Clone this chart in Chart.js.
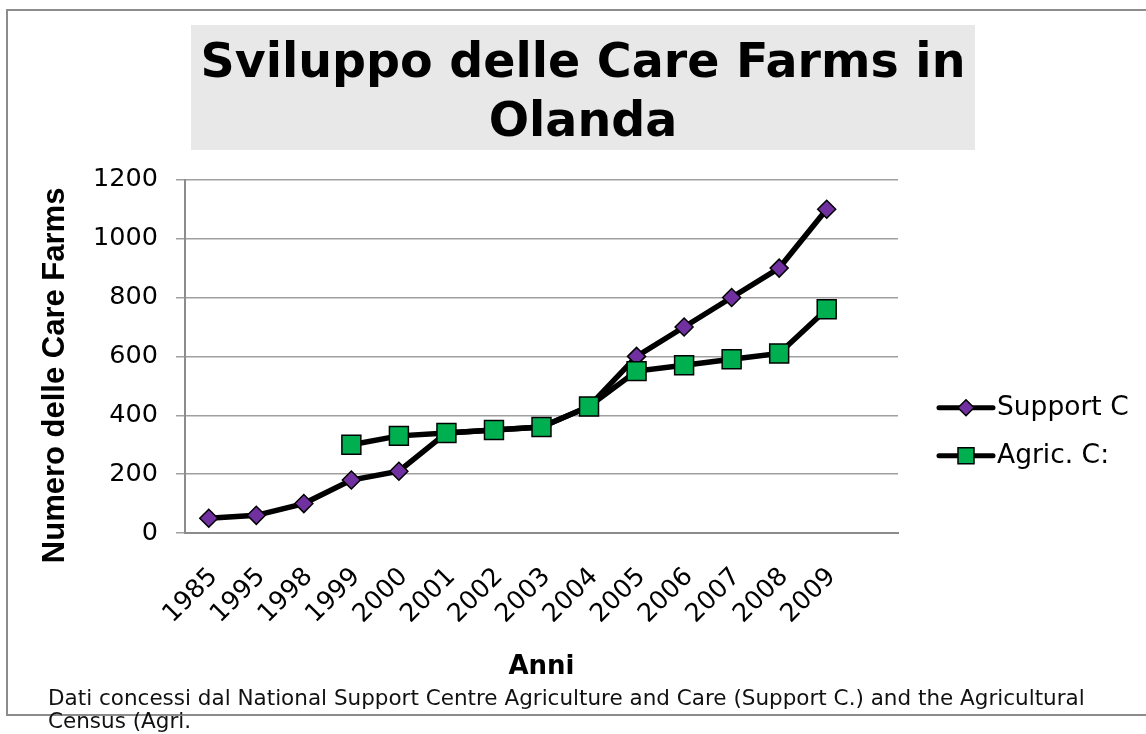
<!DOCTYPE html>
<html><head><meta charset="utf-8">
<script src="https://cdn.jsdelivr.net/npm/chart.js@4.4.0/dist/chart.umd.min.js"></script>
<style>html,body{margin:0;padding:0;background:#fff;overflow:hidden}canvas{display:block}</style>
</head><body>
<canvas id="c" width="1146" height="734"></canvas>
<script>
// ---- data ----
const years = ['1985','1995','1998','1999','2000','2001','2002','2003','2004','2005','2006','2007','2008','2009'];
const supportC = [50, 60, 100, 180, 210, 340, 350, 360, 430, 600, 700, 800, 900, 1100];
const agricC = [null, null, null, 300, 330, 340, 350, 360, 430, 550, 570, 590, 610, 760];
const yTicks = [0, 200, 400, 600, 800, 1000, 1200];
const seriesNames = ['Support C', 'Agric. C:'];
const titleLines = ['Sviluppo delle Care Farms in', 'Olanda'];
const yTitle = 'Numero delle Care Farms';
const xTitle = 'Anni';
const footerLines = ['Dati concessi dal National Support Centre Agriculture and Care (Support C.) and the Agricultural', 'Census (Agri.'];

const PURPLE = '#7030A0', GREEN = '#00B050';
const categoryLabels = years.concat(['']); // one empty slot at the end of the axis

const decor = {
  id: 'decor',
  afterLayout(chart) {
    const tb = chart.titleBlock;
    tb.left = 191; tb.right = 975; tb.width = tb.right - tb.left;
    // y-axis title sits a little below the axis centre in the original
    const ys = chart.scales.y;
    if (ys && !ys._titleShifted) {
      const orig = ys.drawTitle;
      ys.drawTitle = function () {
        this.top += 19; this.bottom += 19;
        try { orig.apply(this, arguments); } finally { this.top -= 19; this.bottom -= 19; }
      };
      ys._titleShifted = true;
    }
  },
  beforeDraw(chart) {
    const ctx = chart.ctx;
    ctx.save();
    ctx.fillStyle = '#fff';
    ctx.fillRect(0, 0, chart.width, chart.height);
    // outer frame
    ctx.strokeStyle = '#8c8c8c';
    ctx.lineWidth = 2;
    ctx.strokeRect(7, 10, chart.width + 20, 705);
    // title background
    const tb = chart.titleBlock;
    ctx.fillStyle = '#e8e8e8';
    ctx.fillRect(tb.left, tb.top, tb.right - tb.left, 125);
    ctx.restore();
  },
  afterDraw(chart) {
    const ctx = chart.ctx;
    const ca = chart.chartArea;
    ctx.save();
    // legend
    const items = [
      {text: seriesNames[0], style: 'diamond', color: PURPLE, y: ca.top + 228},
      {text: seriesNames[1], style: 'square', color: GREEN, y: ca.top + 276}
    ];
    const x0 = ca.right + 41, x1 = ca.right + 95, xm = (x0 + x1) / 2;
    items.forEach(it => {
      ctx.strokeStyle = '#000';
      ctx.lineWidth = 5;
      ctx.lineCap = 'round';
      ctx.beginPath(); ctx.moveTo(x0, it.y); ctx.lineTo(x1, it.y); ctx.stroke();
      ctx.lineCap = 'butt';
      ctx.fillStyle = it.color;
      ctx.lineWidth = 1.5;
      ctx.beginPath();
      if (it.style === 'diamond') {
        const r = 8;
        ctx.moveTo(xm - r, it.y); ctx.lineTo(xm, it.y - r); ctx.lineTo(xm + r, it.y); ctx.lineTo(xm, it.y + r); ctx.closePath();
      } else {
        const h = 8;
        ctx.rect(xm - h, it.y - h, 2 * h, 2 * h);
      }
      ctx.fill(); ctx.stroke();
      ctx.fillStyle = '#000';
      ctx.font = '26.5px "DejaVu Sans"';
      ctx.textBaseline = 'middle';
      ctx.textAlign = 'left';
      ctx.fillText(it.text, x1 + 4, it.y);
    });
    // footer note
    ctx.fillStyle = '#111';
    ctx.font = '21.5px "DejaVu Sans"';
    ctx.textBaseline = 'alphabetic';
    ctx.fillText(footerLines[0], 48, 705);
    ctx.fillText(footerLines[1], 48, 728);
    ctx.restore();
  }
};

new Chart(document.getElementById('c'), {
  type: 'line',
  data: {
    labels: categoryLabels,
    datasets: [
      {
        label: seriesNames[0], data: supportC, order: 1,
        borderColor: '#000', borderWidth: 5.5, tension: 0,
        pointStyle: 'rectRot', pointRadius: 9, pointHoverRadius: 9,
        pointBackgroundColor: PURPLE, pointBorderColor: '#000', pointBorderWidth: 1.5
      },
      {
        label: seriesNames[1], data: agricC, order: 0,
        borderColor: '#000', borderWidth: 5.5, tension: 0,
        pointStyle: 'rect', pointRadius: 13.4, pointHoverRadius: 13.4,
        pointBackgroundColor: GREEN, pointBorderColor: '#000', pointBorderWidth: 1.5
      }
    ]
  },
  options: {
    responsive: false,
    animation: false,
    events: [],
    layout: { padding: { top: 25, left: 17, right: 248, bottom: 51 } },
    plugins: {
      legend: { display: false },
      tooltip: { enabled: false },
      title: {
        display: true, text: titleLines, color: '#000',
        font: { family: '"DejaVu Sans"', size: 47.5, weight: 'bold', lineHeight: 1.24 },
        padding: { top: 10, bottom: 27 }
      }
    },
    scales: {
      x: {
        type: 'category',
        offset: true,
        grid: { display: false, drawTicks: false },
        border: { display: true, color: '#8c8c8c', width: 2 },
        ticks: {
          autoSkip: false, minRotation: 45, maxRotation: 45, padding: 29, labelOffset: 5,
          color: '#000', font: { family: '"DejaVu Sans"', size: 25.5 }
        },
        title: {
          display: true, text: xTitle, color: '#000', padding: { top: 0, bottom: 0 },
          font: { family: '"DejaVu Sans"', size: 26, weight: 'bold', lineHeight: 1.2 }
        },
        afterFit(s) { s.height = 150; }
      },
      y: {
        min: 0, max: 1200,
        afterBuildTicks(s) { s.ticks = yTicks.map(v => ({ value: v })); },
        grid: { color: '#a0a0a0', lineWidth: 1.5, tickLength: 9, drawTicks: true },
        border: { display: true, color: '#8c8c8c', width: 2 },
        ticks: {
          padding: 18, color: '#000', font: { family: '"DejaVu Sans"', size: 25.5 },
          callback: (v) => String(v)
        },
        title: {
          display: true, text: yTitle, color: '#000', padding: { top: 20, bottom: 0 },
          font: { family: '"Liberation Sans"', size: 31, weight: 'bold', lineHeight: 1.2 }
        },
        afterFit(s) { s.width = 168; }
      }
    }
  },
  plugins: [decor]
});
</script>
</body></html>
